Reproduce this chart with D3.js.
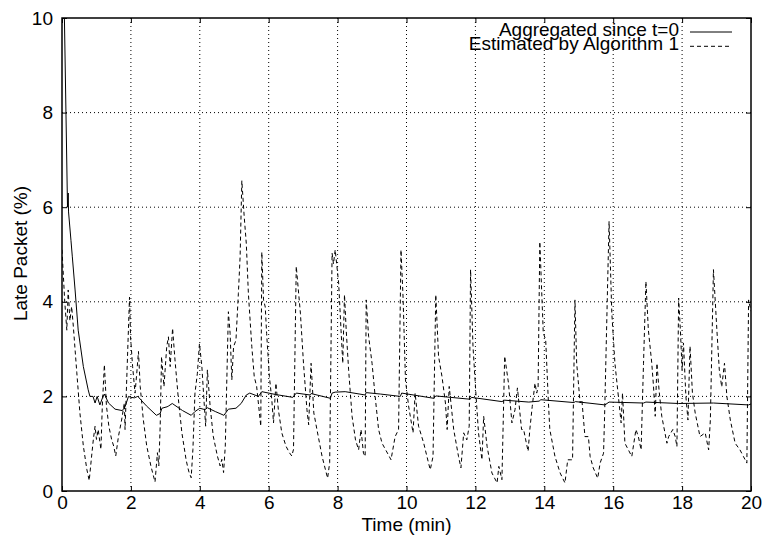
<!DOCTYPE html>
<meta charset="utf-8">
<style>
    body { margin: 0; background: #fff; }
    svg { font-family: "Liberation Sans", Arial, sans-serif; }
    .grid line { stroke: #000; stroke-width: 1px; stroke-dasharray: 1,3; }
    .frame { fill: none; stroke: #000; stroke-width: 1.5px; }
    .series { fill: none; stroke: #000; stroke-width: 1px; }
    .dashed { stroke-dasharray: 4,3; }
    text { font-size: 19px; fill: #000; }
</style>
<svg width="764" height="537"></svg>
<script src="https://d3js.org/d3.v7.min.js"></script>
<script>

    // ticks
    var xTicks = [0, 2, 4, 6, 8, 10, 12, 14, 16, 18, 20];
    var yTicks = [0, 2, 4, 6, 8, 10];

    // aggregated since t=0 : [time (min), late %]
    var aggregated = [
        [0.05, 10.5], [0.07, 10], [0.16, 6.0], [0.18, 6.3], [0.19, 5.9], [0.26, 5.3], [0.3, 4.95],
        [0.38, 4.25], [0.47, 3.4], [0.62, 2.63], [0.76, 2.14], [0.81, 2.0], [0.9, 2.0],
        [0.96, 1.86], [1.02, 2.0], [1.1, 1.82], [1.17, 1.96], [1.23, 2.05], [1.35, 1.86],
        [1.54, 1.73], [1.75, 1.7], [1.83, 1.78], [1.93, 2.0], [2.0, 1.98], [2.1, 1.97],
        [2.2, 2.0], [2.45, 1.8], [2.74, 1.6], [2.85, 1.64], [2.9, 1.75], [3.05, 1.78],
        [3.1, 1.8], [3.2, 1.85], [3.5, 1.7], [3.75, 1.6], [3.86, 1.68], [4.0, 1.75],
        [4.15, 1.72], [4.22, 1.76], [4.45, 1.68], [4.7, 1.6], [4.83, 1.73], [5.05, 1.75],
        [5.2, 1.85], [5.35, 2.03], [5.45, 2.07], [5.7, 2.0], [5.8, 2.1], [6.2, 2.04],
        [6.7, 1.98], [6.8, 2.07], [7.2, 2.03], [7.23, 2.06], [7.79, 1.96], [7.84, 2.07],
        [7.93, 2.09], [8.22, 2.1], [8.8, 2.03], [8.83, 2.08], [9.24, 2.05], [9.82, 2.0],
        [9.86, 2.07], [10.79, 1.96], [10.85, 2.01], [11.85, 1.94], [11.88, 1.98],
        [12.77, 1.89], [12.85, 1.92], [13.55, 1.88], [13.85, 1.9], [13.9, 1.93],
        [14.86, 1.87], [14.9, 1.89], [15.76, 1.82], [15.88, 1.88], [16.88, 1.86],
        [16.95, 1.88], [17.9, 1.85], [18.91, 1.86], [19.93, 1.82], [20.0, 1.84]
    ];

    // estimated by algorithm 1 : [time (min), late %]
    var estimated = [
        [0.0, 5.1], [0.08, 4.0], [0.14, 3.4], [0.18, 4.25], [0.23, 3.6], [0.28, 3.9],
        [0.33, 3.47], [0.43, 2.5], [0.52, 1.65], [0.62, 0.95], [0.72, 0.46], [0.79, 0.22],
        [0.86, 0.74], [0.91, 1.09], [0.96, 1.37], [1.0, 1.09], [1.05, 1.3], [1.13, 0.88],
        [1.17, 1.8], [1.23, 2.67], [1.29, 1.8], [1.36, 1.37], [1.44, 1.09], [1.5, 0.95],
        [1.56, 0.74], [1.64, 1.16], [1.73, 1.5], [1.81, 1.86], [1.83, 1.3], [1.96, 4.1],
        [1.99, 3.26], [2.05, 2.63], [2.12, 2.07], [2.17, 2.49], [2.22, 2.95], [2.27, 2.21],
        [2.36, 1.51], [2.46, 0.95], [2.58, 0.53], [2.7, 0.19], [2.77, 0.81], [2.81, 0.53],
        [2.85, 1.37], [2.89, 2.84], [2.96, 2.21], [3.04, 3.05], [3.09, 3.26], [3.14, 2.63],
        [3.21, 3.44], [3.28, 2.77], [3.38, 1.93], [3.48, 1.23], [3.6, 0.67], [3.65, 0.5],
        [3.69, 0.39], [3.75, 0.28], [3.8, 0.88], [3.86, 2.07], [3.93, 2.49], [3.99, 3.12],
        [4.06, 2.63], [4.12, 1.93], [4.17, 1.37], [4.22, 2.56], [4.3, 1.79], [4.39, 1.16],
        [4.51, 0.74], [4.59, 0.53], [4.64, 0.67], [4.69, 0.39], [4.74, 0.95], [4.83, 3.79],
        [4.88, 3.33], [4.93, 2.35], [4.98, 3.05], [5.05, 3.19], [5.12, 4.18], [5.17, 4.95],
        [5.22, 6.56], [5.29, 5.79], [5.35, 5.23], [5.41, 4.18], [5.51, 3.05], [5.58, 2.42],
        [5.65, 2.21], [5.73, 1.65], [5.77, 1.37], [5.8, 5.05], [5.85, 4.04], [5.9, 3.89],
        [5.94, 3.33], [6.02, 2.42], [6.09, 1.93], [6.14, 1.44], [6.21, 2.28], [6.28, 1.72],
        [6.38, 1.23], [6.5, 0.95], [6.6, 0.81], [6.67, 0.74], [6.72, 0.88], [6.8, 4.75],
        [6.92, 3.76], [7.01, 2.7], [7.11, 1.72], [7.16, 1.4], [7.23, 2.7], [7.31, 1.65],
        [7.4, 1.3], [7.55, 0.73], [7.71, 0.27], [7.77, 0.6], [7.84, 5.03], [7.88, 4.8],
        [7.93, 5.1], [8.03, 4.4], [8.1, 3.4], [8.15, 2.7], [8.2, 4.15], [8.25, 3.4],
        [8.32, 2.56], [8.42, 1.58], [8.52, 1.08], [8.61, 0.87], [8.68, 1.3], [8.75, 0.8],
        [8.8, 0.73], [8.83, 4.04], [8.9, 3.27], [9.0, 2.7], [9.09, 2.0], [9.19, 1.3],
        [9.29, 1.01], [9.5, 0.73], [9.55, 0.66], [9.67, 1.15], [9.77, 1.3], [9.84, 5.1],
        [9.9, 4.1], [9.97, 2.35], [10.06, 1.8], [10.19, 1.23], [10.25, 2.07], [10.35, 1.37],
        [10.5, 1.01], [10.64, 0.59], [10.69, 0.45], [10.77, 0.73], [10.85, 4.15],
        [10.93, 2.85], [11.03, 2.42], [11.13, 1.86], [11.18, 1.3], [11.24, 2.21],
        [11.37, 1.3], [11.51, 0.73], [11.58, 0.49], [11.66, 1.23], [11.75, 1.08],
        [11.82, 1.37], [11.86, 4.68], [11.93, 3.06], [12.02, 2.0], [12.09, 1.23],
        [12.19, 0.66], [12.24, 1.58], [12.34, 0.94], [12.48, 0.38], [12.63, 0.17],
        [12.68, 0.52], [12.77, 0.24], [12.85, 2.85], [12.96, 2.28], [13.06, 1.44],
        [13.15, 1.72], [13.22, 2.18], [13.34, 1.3], [13.4, 1.3], [13.46, 1.08],
        [13.53, 0.84], [13.58, 1.3], [13.65, 1.79], [13.73, 2.28], [13.78, 2.07],
        [13.82, 2.2], [13.87, 5.27], [13.97, 3.34], [14.04, 3.2], [14.12, 1.86],
        [14.16, 1.3], [14.31, 0.73], [14.46, 0.38], [14.6, 0.17], [14.68, 0.66],
        [14.75, 0.66], [14.82, 0.66], [14.89, 4.04], [14.94, 2.7], [15.04, 1.86],
        [15.09, 1.93], [15.18, 1.15], [15.28, 1.15], [15.33, 0.73], [15.42, 0.49],
        [15.55, 0.27], [15.62, 0.59], [15.72, 0.8], [15.75, 1.58], [15.88, 5.7],
        [15.96, 3.76], [16.05, 2.7], [16.15, 2.0], [16.23, 1.44], [16.27, 2.07],
        [16.34, 1.01], [16.44, 0.87], [16.54, 0.73], [16.66, 1.3], [16.73, 1.15],
        [16.81, 0.87], [16.88, 2.7], [16.95, 4.43], [17.02, 3.41], [17.12, 2.7],
        [17.17, 2.21], [17.22, 1.58], [17.27, 2.7], [17.33, 2.14], [17.41, 1.58],
        [17.56, 1.01], [17.61, 1.15], [17.73, 1.3], [17.8, 1.15], [17.85, 0.94],
        [17.9, 4.08], [17.95, 3.4], [18.0, 2.56], [18.04, 3.13], [18.11, 2.0],
        [18.17, 1.5], [18.23, 3.06], [18.3, 2.07], [18.38, 1.65], [18.52, 1.15],
        [18.67, 1.23], [18.77, 0.87], [18.82, 1.5], [18.91, 4.68], [19.01, 3.4],
        [19.08, 2.56], [19.15, 2.2], [19.23, 2.7], [19.3, 2.0], [19.4, 1.5],
        [19.54, 1.01], [19.68, 0.87], [19.78, 0.73], [19.88, 0.59], [19.93, 4.04],
        [20.0, 3.8]
    ];

    var svg = d3.select("svg"),
        margin = {top: 18, right: 13, bottom: 46, left: 62},
        width = +svg.attr("width") - margin.left - margin.right,
        height = +svg.attr("height") - margin.top - margin.bottom;

    var g = svg.append("g")
        .attr("transform", "translate(" + margin.left + "," + margin.top + ")");

    var x = d3.scaleLinear().domain([0, 20]).range([0, width]);
    var y = d3.scaleLinear().domain([0, 10]).range([height, 0]);

    // grid
    var grid = g.append("g").attr("class", "grid");
    grid.selectAll(".gx")
        .data(xTicks.slice(1, -1))
        .enter().append("line")
        .attr("x1", function (d) { return x(d); })
        .attr("x2", function (d) { return x(d); })
        .attr("y1", 0)
        .attr("y2", height);
    grid.selectAll(".gy")
        .data(yTicks.slice(1, -1))
        .enter().append("line")
        .attr("x1", 0)
        .attr("x2", width)
        .attr("y1", function (d) { return y(d); })
        .attr("y2", function (d) { return y(d); });

    // axes with inward ticks on all four sides
    var tickLen = 5;
    g.append("g")
        .attr("transform", "translate(0," + height + ")")
        .call(d3.axisBottom(x).tickValues(xTicks).tickSize(-tickLen).tickPadding(5))
        .call(function (a) { a.select(".domain").remove(); });
    g.append("g")
        .call(d3.axisTop(x).tickValues(xTicks).tickSize(-tickLen).tickFormat(""))
        .call(function (a) { a.select(".domain").remove(); });
    g.append("g")
        .call(d3.axisLeft(y).tickValues(yTicks).tickSize(-tickLen).tickPadding(9))
        .call(function (a) { a.select(".domain").remove(); });
    g.append("g")
        .attr("transform", "translate(" + width + ",0)")
        .call(d3.axisRight(y).tickValues(yTicks).tickSize(-tickLen).tickFormat(""))
        .call(function (a) { a.select(".domain").remove(); });

    g.selectAll(".tick text")
        .style("font-size", "19px")
        .style("font-family", "'Liberation Sans', Arial, sans-serif");

    // series
    var line = d3.line()
        .x(function (d) { return x(d[0]); })
        .y(function (d) { return y(d[1]); });

    g.append("clipPath").attr("id", "plot")
        .append("rect").attr("width", width).attr("height", height);

    g.append("path")
        .datum(estimated)
        .attr("class", "series dashed")
        .attr("clip-path", "url(#plot)")
        .attr("d", line);

    g.append("path")
        .datum(aggregated)
        .attr("class", "series")
        .attr("clip-path", "url(#plot)")
        .attr("d", line);

    g.append("rect")
        .attr("class", "frame")
        .attr("width", width)
        .attr("height", height);

    // legend
    var legend = g.selectAll(".legend")
        .data(["Aggregated since t=0", "Estimated by Algorithm 1"])
        .enter().append("g")
        .attr("transform", function (d, i) { return "translate(0," + (14 + i * 14.3) + ")"; });
    legend.append("text")
        .attr("x", 617)
        .attr("y", 3.5)
        .attr("text-anchor", "end")
        .text(function (d) { return d; });
    legend.append("line")
        .attr("class", function (d, i) { return i ? "series dashed" : "series"; })
        .attr("x1", 628)
        .attr("x2", 670)
        .attr("y1", 0)
        .attr("y2", 0);

    // axis titles
    svg.append("text")
        .attr("x", margin.left + width / 2)
        .attr("y", 531)
        .attr("text-anchor", "middle")
        .text("Time (min)");
    svg.append("text")
        .attr("transform", "translate(27," + (margin.top + height / 2 - 1) + ") rotate(-90)")
        .attr("text-anchor", "middle")
        .text("Late Packet (%)");

</script>
